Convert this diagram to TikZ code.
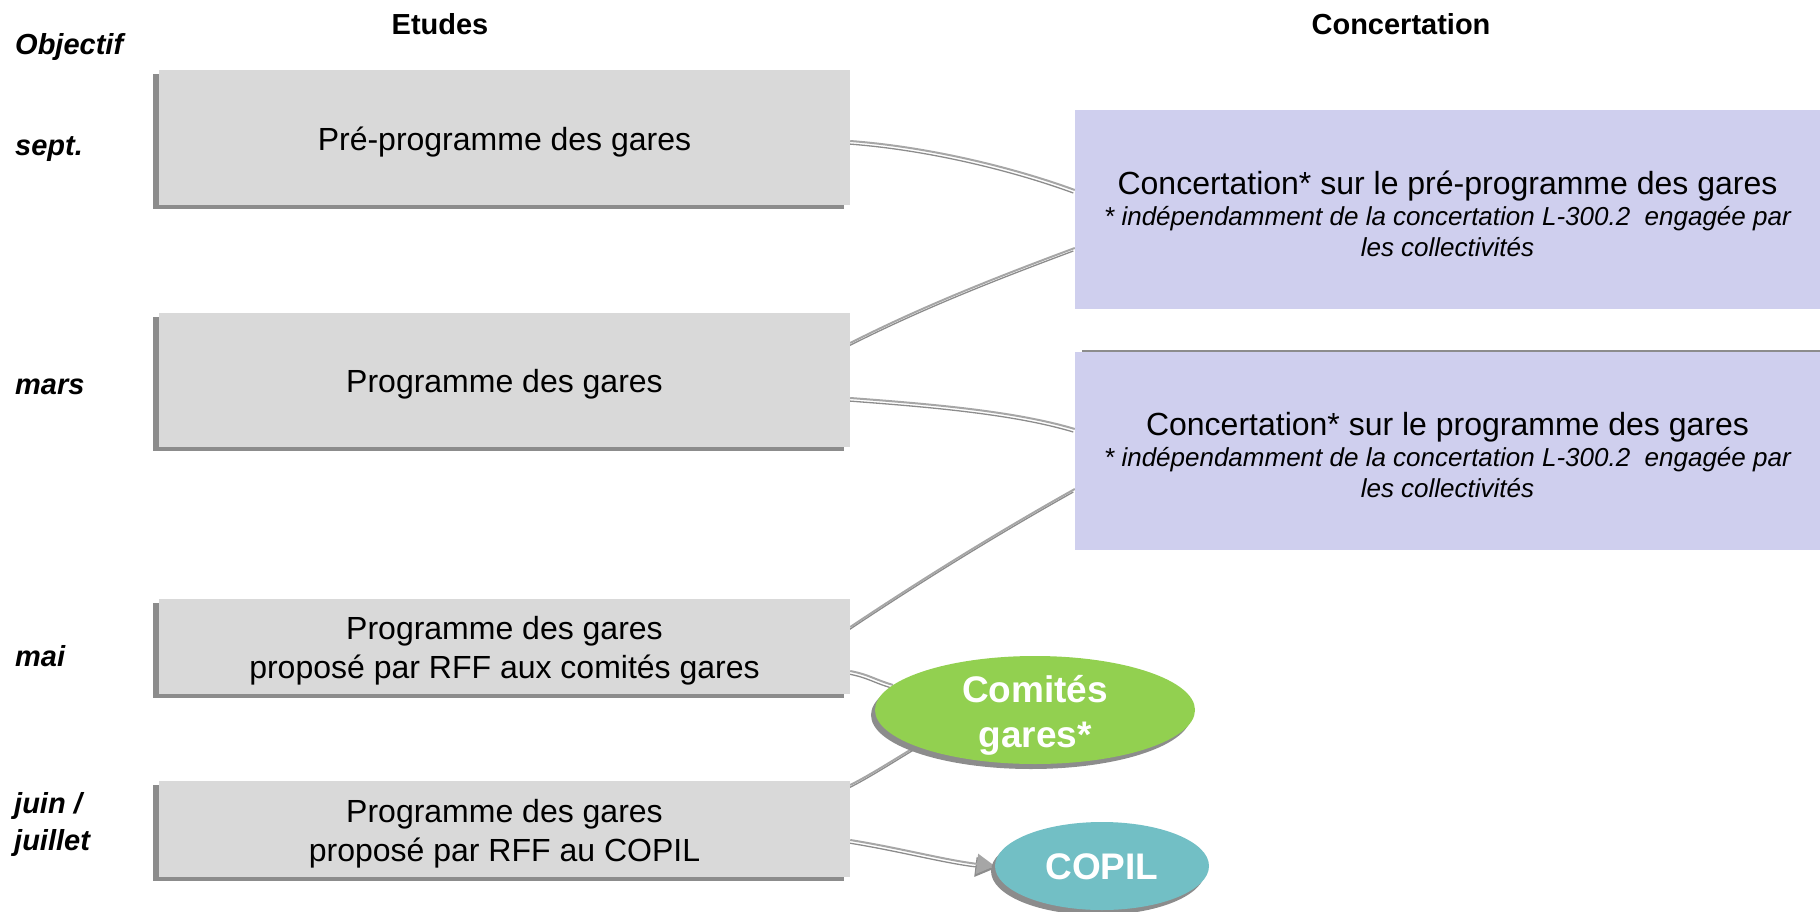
\documentclass[tikz,border=0pt]{standalone}
\usepackage{fontspec}
\setmainfont{Liberation Sans}
\usetikzlibrary{shapes.geometric,shadows,arrows.meta,calc}
\definecolor{boxgray}{HTML}{D9D9D9}
\definecolor{boxpurple}{HTML}{CFCFEE}
\definecolor{ellgreen}{HTML}{92D050}
\definecolor{ellteal}{HTML}{72BFC5}
\definecolor{conngray}{HTML}{A6A6A6}
\definecolor{shadowc}{HTML}{8C8C8C}
\pgfdeclarelayer{background}
\pgfsetlayers{background,main}
\begin{document}
\begin{tikzpicture}[x=1pt,y=-1pt,
  graybox/.style={rectangle, fill=boxgray, minimum width=691pt, inner sep=0pt,
    drop shadow={shadow xshift=-6pt, shadow yshift=-4pt, fill=shadowc, opacity=1}},
  graytext/.style={inner sep=0pt, align=center, font=\fontsize{32}{39}\selectfont},
  purplebox/.style={rectangle, fill=boxpurple, minimum width=745pt, inner sep=0pt},
  purpletext/.style={inner sep=0pt, align=center, font=\fontsize{26}{31}\selectfont},
  bubble/.style={ellipse, inner sep=0pt,
    drop shadow={shadow xshift=-4pt, shadow yshift=-5pt, fill=shadowc, opacity=1}},
  bubbletext/.style={inner sep=0pt, align=center, text=white, font=\fontsize{37}{45}\selectfont\bfseries},
  lab/.style={inner sep=0pt, font=\fontsize{29}{37}\selectfont\bfseries\itshape, align=left},
  head/.style={inner sep=0pt, font=\fontsize{29}{35}\selectfont\bfseries},
  conn/.style={draw=conngray, line width=2pt,
    preaction={draw=shadowc, line width=1.3pt, arrows=-, transform canvas={shift={(-1.5pt,-3pt)}}}},
  connarrow/.style={draw=conngray, line width=2pt, -{Triangle[length=18pt,width=20pt]},
    preaction={draw=shadowc, line width=1.3pt, transform canvas={shift={(-1.5pt,-3pt)}}}}
]
\useasboundingbox (0,0) rectangle (1820,912);

% headers and time labels
\node[head, anchor=base] (hEtudes) at (440,35) {Etudes};
\node[head, anchor=base] (hConc) at (1401,35) {Concertation};
\node[lab, anchor=base west] (lObj) at (15,55) {Objectif};
\node[lab, anchor=base west] (lSept) at (15,156) {sept.};
\node[lab, anchor=base west] (lMars) at (15,394) {mars};
\node[lab, anchor=base west] (lMai) at (15,666) {mai};
\node[lab, anchor=west] (lJuin) at (14,824) {juin /\\juillet};

% study boxes
\node[graybox, minimum height=135pt] (b1) at (504.5,137.5) {};
\node[graybox, minimum height=134pt] (b2) at (504.5,380) {};
\node[graybox, minimum height=95pt] (b3) at (504.5,646.5) {};
\node[graybox, minimum height=96pt] (b4) at (504.5,829) {};
\node[graytext] (b1t) at ($(b1.center)+(0,5)$) {Pré-programme des gares};
\node[graytext] (b2t) at ($(b2.center)+(0,4)$) {Programme des gares};
\node[graytext] (b3t) at ($(b3.center)+(0,4)$) {Programme des gares\\proposé par RFF aux comités gares};
\node[graytext] (b4t) at ($(b4.center)+(0,5)$) {Programme des gares\\proposé par RFF au COPIL};

% concertation boxes
\node[purplebox, minimum height=199pt] (p1) at (1447.5,209.5) {};
\node[purplebox, minimum height=198pt,
  drop shadow={shadow xshift=7pt, shadow yshift=2pt, fill=shadowc, opacity=1}] (p2) at (1447.5,451) {};
\node[purpletext] (p1t) at ($(p1.center)+(0,4)$)
  {{\fontsize{32}{32}\selectfont Concertation* sur le pré-programme des gares}\\
   \itshape * indépendamment de la concertation L-300.2\ \ engagée par\\
   \itshape les collectivités};
\node[purpletext] (p2t) at ($(p2.center)+(0,4)$)
  {{\fontsize{32}{32}\selectfont Concertation* sur le programme des gares}\\
   \itshape * indépendamment de la concertation L-300.2\ \ engagée par\\
   \itshape les collectivités};

% ellipses
\node[bubble, fill=ellgreen, minimum width=320pt, minimum height=108pt] (com) at (1035,710) {};
\node[bubble, fill=ellteal, minimum width=214pt, minimum height=88pt] (cop) at (1102,866) {};
\node[bubbletext] (comt) at ($(com.center)+(0,5)$) {Comités\\gares*};
\node[bubbletext] (copt) at ($(cop.center)+(0,1)$) {COPIL};

% connectors
\begin{pgfonlayer}{background}
\draw[conn] ($(b1.east)+(0,3.5)$) .. controls +(80,6) and +(-60,-22) .. ($(p1.west)+(0,-19.5)$);
\draw[conn] ($(b2.east)+(0,-37)$) .. controls +(75,-38) and +(-75,28) .. ($(p1.west)+(0,38.5)$);
\draw[conn] ($(b2.east)+(0,18)$) .. controls +(80,6) and +(-60,-18) .. ($(p2.west)+(0,-22)$);
\draw[conn] ($(b3.east)+(0,-19.5)$) .. controls +(75,-50) and +(-75,42) .. ($(p2.west)+(0,38)$);
\draw[conn] ($(b3.east)+(0,24.5)$) .. controls +(20,4) and +(-20,-6) .. (com.170);
\draw[conn] ($(b4.east)+(0,-44)$) .. controls +(20,-10) and +(-20,12) .. (com.197);
\draw[connarrow] ($(b4.east)+(0,11)$) .. controls +(50,8) and +(-50,-6) .. (cop.west);
\end{pgfonlayer}
\end{tikzpicture}
\end{document}
